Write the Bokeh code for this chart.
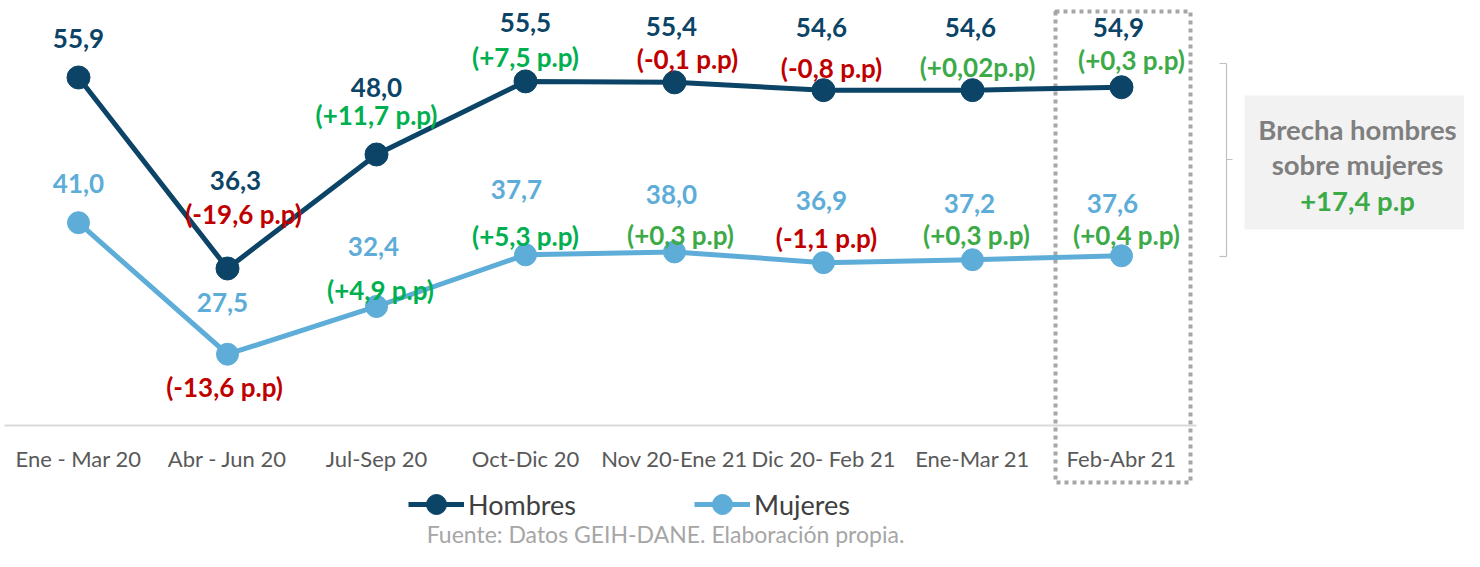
from bokeh.plotting import figure
from bokeh.models import Range1d, FixedTicker, Legend, LegendItem, ColumnDataSource
from bokeh.core.properties import value
from bokeh.embed import file_html
from bokeh.resources import INLINE

# ---------------- data ----------------
categories = ["Ene - Mar 20", "Abr - Jun 20", "Jul-Sep 20", "Oct-Dic 20",
              "Nov 20-Ene 21", "Dic 20- Feb 21", "Ene-Mar 21", "Feb-Abr 21"]
hombres = [55.9, 36.3, 48.0, 55.5, 55.4, 54.6, 54.6, 54.9]
mujeres = [41.0, 27.5, 32.4, 37.7, 38.0, 36.9, 37.2, 37.6]
var_hombres = ["", "(-19,6 p.p)", "(+11,7 p.p)", "(+7,5 p.p)", "(-0,1 p.p)",
               "(-0,8 p.p)", "(+0,02p.p)", "(+0,3 p.p)"]
var_mujeres = ["", "(-13,6 p.p)", "(+4,9 p.p)", "(+5,3 p.p)", "(+0,3 p.p)",
               "(-1,1 p.p)", "(+0,3 p.p)", "(+0,4 p.p)"]
brecha_lines = ["Brecha hombres", "sobre mujeres"]
brecha_value = "+17,4 p.p"
fuente = "Fuente: Datos GEIH-DANE. Elaboración propia."

# ---------------- style ----------------
DARK = "#0B4466"
LIGHT = "#5DADD8"
RED = "#C00000"
GREEN = "#00B050"
GREEN2 = "#3DAA48"
GRAY_TXT = "#7F7F7F"
FONT = "Lato"

var_h_colors = [GREEN, RED, GREEN, GREEN, RED, RED, GREEN2, GREEN2]
var_m_colors = [GREEN, RED, GREEN, GREEN, GREEN2, RED, GREEN2, GREEN2]

# label offsets in pixels (negative = up)
val_h_dy = [-39, -88, -67, -59, -56, -63, -63, -60]
val_h_dx = [0, 8, 0, 0, -3, -2, -2, -3]
var_h_dy = [0, -54, -39, -24, -23, -22, -23, -27]
var_h_dx = [0, 16, 0, 0, 13, 8, 5, 10]
val_m_dy = [-39, -52, -60, -65, -57, -62, -56, -52]
val_m_dx = [0, -5, -3, -9, -3, -2, -3, -9]
var_m_dy = [0, 33, -16, -19, -17, -25, -25, -21]
var_m_dx = [0, -3, 4, 0, 6, 3, 4, 5]

W, H = 1464, 551
PX_X = 149.0            # pixels per category
PX_Y = 9.745            # pixels per percentage point
X0 = -78 / PX_X
x_range = Range1d(X0, X0 + W / PX_X)
Y_TOP = 63.80
y_range = Range1d(Y_TOP - H / PX_Y, Y_TOP)
y_base = 20.19


def ypix(py):
    """vertical canvas pixel -> data value (for decorations only)"""
    return Y_TOP - py / PX_Y


def xpix(px):
    return X0 + px / PX_X


p = figure(width=W, height=H, x_range=x_range, y_range=y_range,
           output_backend="svg", toolbar_location=None, min_border=0,
           y_axis_location=None, outline_line_color=None,
           background_fill_color="white")
p.xgrid.visible = False
p.ygrid.visible = False

n = len(categories)
xs = list(range(n))
last = xs[-1]

# x axis
ax = p.xaxis[0]
ax.ticker = FixedTicker(ticks=xs)
ax.major_label_overrides = {i: c for i, c in enumerate(categories)}
ax.fixed_location = y_base
ax.bounds = (-0.5, n - 0.5)
ax.axis_line_color = "#D9D9D9"
ax.axis_line_width = 2
ax.major_tick_line_color = None
ax.minor_tick_line_color = None
ax.major_label_text_font = FONT
ax.major_label_text_font_size = "22px"
ax.major_label_text_color = "#595959"
ax.major_label_standoff = 14

# highlight box for last period
p.quad(left=[xpix(1055)], right=[xpix(1190)], top=[ypix(11)], bottom=[ypix(482)],
       fill_color=None, line_color="#A6A6A6", line_width=4, line_dash="4 4")

# series
lh = p.line(xs, hombres, line_color=DARK, line_width=5)
sh = p.scatter(xs, hombres, size=23, fill_color=DARK, line_color=DARK)
lm = p.line(xs, mujeres, line_color=LIGHT, line_width=5)
sm = p.scatter(xs, mujeres, size=22, fill_color=LIGHT, line_color=LIGHT)


def fmt(v):
    return f"{v:.1f}".replace(".", ",")


src_vh = ColumnDataSource(dict(x=xs, y=hombres, t=[fmt(v) for v in hombres],
                               dx=val_h_dx, dy=val_h_dy))
src_vm = ColumnDataSource(dict(x=xs, y=mujeres, t=[fmt(v) for v in mujeres],
                               dx=val_m_dx, dy=val_m_dy))
src_ch = ColumnDataSource(dict(x=xs, y=hombres, t=var_hombres, c=var_h_colors,
                               dx=var_h_dx, dy=var_h_dy))
src_cm = ColumnDataSource(dict(x=xs, y=mujeres, t=var_mujeres, c=var_m_colors,
                               dx=var_m_dx, dy=var_m_dy))

common = dict(text_align="center", text_baseline="middle",
              text_font=value(FONT), text_font_style="bold",
              text_font_size="26px")
p.text(x="x", y="y", text="t", x_offset="dx", y_offset="dy", source=src_vh,
       text_color=DARK, **common)
p.text(x="x", y="y", text="t", x_offset="dx", y_offset="dy", source=src_vm,
       text_color=LIGHT, **common)
p.text(x="x", y="y", text="t", x_offset="dx", y_offset="dy", source=src_ch,
       text_color="c", **common)
p.text(x="x", y="y", text="t", x_offset="dx", y_offset="dy", source=src_cm,
       text_color="c", **common)

# bracket
bx, bl, br = xpix(1226), xpix(1219), xpix(1232)
bt, bb, bm = ypix(63), ypix(256), ypix(159)
p.segment(x0=[bx, bl, bl, bx], y0=[bt, bt, bb, bm],
          x1=[bx, bx, bx, br], y1=[bb, bt, bb, bm],
          line_color="#BFBFBF", line_width=1.2)

# gap box
p.quad(left=[xpix(1244)], right=[xpix(1473)], top=[ypix(95)], bottom=[ypix(229)],
       fill_color="#F2F2F2", line_color=None)
tx = xpix(1357)
p.text(x=[tx, tx], y=[ypix(129), ypix(164)],
       text=brecha_lines, text_color=GRAY_TXT, text_align="center",
       text_baseline="middle", text_font=value(FONT), text_font_style="bold",
       text_font_size="27.5px")
p.text(x=[tx], y=[ypix(200)], text=[brecha_value],
       text_color=GREEN2, text_align="center", text_baseline="middle",
       text_font=value(FONT), text_font_style="bold", text_font_size="27.5px")

# source
p.text(x=[xpix(665)], y=[ypix(533)], text=[fuente],
       text_color="#A6A6A6", text_align="center", text_baseline="middle",
       text_font=value(FONT), text_font_size="23px")

legend = Legend(items=[LegendItem(label="Hombres", renderers=[lh, sh]),
                       LegendItem(label="Mujeres", renderers=[lm, sm])],
                orientation="horizontal", location=(408, 22),
                glyph_width=56, glyph_height=50, label_standoff=4, spacing=118,
                padding=0, margin=0, border_line_color=None,
                background_fill_alpha=0, label_text_font=FONT,
                label_text_font_size="27px", label_text_color="#404040")
p.add_layout(legend)

open("out.html", "w").write(file_html(p, INLINE))
